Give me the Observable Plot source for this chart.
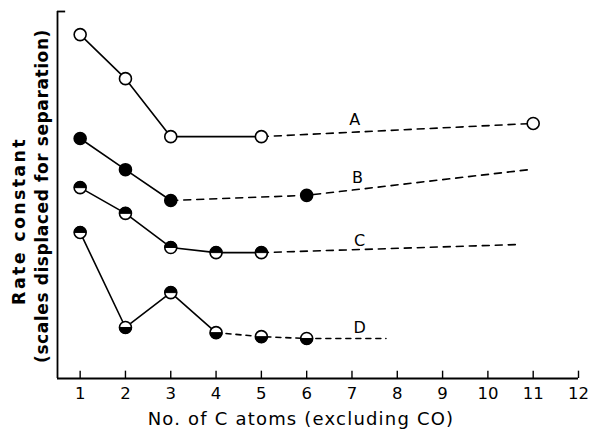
<!DOCTYPE html>
<html>
<head>
<meta charset="utf-8">
<script src="https://cdn.jsdelivr.net/npm/d3@7"></script>
<script src="https://cdn.jsdelivr.net/npm/@observablehq/plot@0.6"></script>
<style>
  html, body { margin: 0; padding: 0; background: #fff; }
</style>
</head>
<body>
<div id="chart"></div>
<script>
// ---- data (y is an arbitrary displaced scale) ----
const xTicks = [1, 2, 3, 4, 5, 6, 7, 8, 9, 10, 11, 12];

const aX = [1, 2, 3, 5, 11];
const aY = [93.7, 81.7, 65.9, 65.9, 69.5];

const bX = [1, 2, 3, 6];
const bY = [65.4, 56.9, 48.5, 49.9];
const bEndX = 10.9, bEndY = 56.9;

const cX = [1, 2, 3, 4, 5];
const cY = [52.0, 45.0, 35.7, 34.3, 34.3];
const cEndX = 10.65, cEndY = 36.5;

const dX = [1, 2, 3, 4, 5, 6];
const dY = [39.8, 13.9, 23.4, 12.5, 11.4, 10.9];
const dEndX = 7.75, dEndY = 10.9;

const curveLabels = ["A", "B", "C", "D"];
const labelX = [7.06, 7.12, 7.17, 7.17];
const labelY = [70.6, 54.6, 37.6, 13.9];

const xLabel = "No. of C atoms (excluding CO)";
const yLabel1 = "Rate constant";
const yLabel2 = "(scales displaced for separation)";

// ---- build tables ----
const pts = (xs, ys) => xs.map((x, i) => ({x, y: ys[i]}));
const A = pts(aX, aY), B = pts(bX, bY), C = pts(cX, cY), D = pts(dX, dY);
const aSolid = A.slice(0, 4), aDash = A.slice(3);
const bSolid = B.slice(0, 3), bDash = [...B.slice(2), {x: bEndX, y: bEndY}];
const cSolid = C, cDash = [C[C.length - 1], {x: cEndX, y: cEndY}];
const dSolid = D.slice(0, 4), dDash = [...D.slice(3), {x: dEndX, y: dEndY}];
const labels = curveLabels.map((t, i) => ({t, x: labelX[i], y: labelY[i]}));

// half-disc symbols
const halfTop = {draw(ctx, size) { const r = Math.sqrt(size / Math.PI); ctx.moveTo(-r, 0); ctx.arc(0, 0, r, Math.PI, 2 * Math.PI); ctx.closePath(); }};
const halfBottom = {draw(ctx, size) { const r = Math.sqrt(size / Math.PI); ctx.moveTo(r, 0); ctx.arc(0, 0, r, 0, Math.PI); ctx.closePath(); }};

const R = 6;
const lineW = 1.6;
const dash = "7,6";

const chart = Plot.plot({
  width: 591,
  height: 429,
  marginLeft: 57,
  marginRight: 13,
  marginTop: 11,
  marginBottom: 51,
  x: {domain: [0.5, 12], axis: null},
  y: {domain: [0, 100], axis: null},
  style: {fontFamily: "DejaVu Sans", color: "#000", background: "#fff"},
  marks: [
    // axes
    Plot.ruleY([0], {x1: 0.5, x2: 12, stroke: "#000", strokeWidth: 1.8}),
    Plot.ruleX([0.5], {y1: 0, y2: 100, stroke: "#000", strokeWidth: 1.8}),
    Plot.ruleY([100], {x1: 0.5, x2: 0.68, stroke: "#000", strokeWidth: 1.8}),
    Plot.ruleX(xTicks, {x: d => d, y1: 0, y2: 2, stroke: "#000", strokeWidth: 1.4}),
    Plot.text(xTicks, {x: d => d, y: 0, text: d => String(d), dy: 15, fontSize: 16.5, fill: "#000"}),
    Plot.text([xLabel], {frameAnchor: "bottom", textAnchor: "middle", text: d => d, dy: 46, dx: -17, fontSize: 18, fill: "#000"}),
    Plot.text([yLabel1], {frameAnchor: "left", textAnchor: "middle", text: d => d, dx: -38, dy: 26, rotate: -90, fontSize: 17.5, fontWeight: "bold", fill: "#000"}),
    Plot.text([yLabel2], {frameAnchor: "left", textAnchor: "middle", text: d => d, dx: -15, dy: 1, rotate: -90, fontSize: 17, fontWeight: "bold", fill: "#000"}),

    // solid segments
    Plot.line(aSolid, {x: "x", y: "y", stroke: "#000", strokeWidth: lineW}),
    Plot.line(bSolid, {x: "x", y: "y", stroke: "#000", strokeWidth: lineW}),
    Plot.line(cSolid, {x: "x", y: "y", stroke: "#000", strokeWidth: lineW}),
    Plot.line(dSolid, {x: "x", y: "y", stroke: "#000", strokeWidth: lineW}),
    // dashed extensions
    Plot.line(aDash, {x: "x", y: "y", stroke: "#000", strokeWidth: lineW, strokeDasharray: dash}),
    Plot.line(bDash, {x: "x", y: "y", stroke: "#000", strokeWidth: lineW, strokeDasharray: dash}),
    Plot.line(cDash, {x: "x", y: "y", stroke: "#000", strokeWidth: lineW, strokeDasharray: dash}),
    Plot.line(dDash, {x: "x", y: "y", stroke: "#000", strokeWidth: lineW, strokeDasharray: "5,5"}),

    // markers
    Plot.dot(A, {x: "x", y: "y", r: R, fill: "#fff", stroke: "#000", strokeWidth: 1.6}),
    Plot.dot(B, {x: "x", y: "y", r: R, fill: "#000", stroke: "#000", strokeWidth: 1.6}),
    Plot.dot(C, {x: "x", y: "y", r: R, fill: "#fff", stroke: "#000", strokeWidth: 1.6}),
    Plot.dot(C, {x: "x", y: "y", r: R, symbol: halfTop, fill: "#000", stroke: "#000", strokeWidth: 1.0}),
    Plot.dot(D, {x: "x", y: "y", r: R, fill: "#fff", stroke: "#000", strokeWidth: 1.6}),
    Plot.dot(D, {x: "x", y: "y", r: R, symbol: halfTop, fill: "#000", stroke: "#000", strokeWidth: 1.0, filter: (d, i) => i === 0 || i === 2}),
    Plot.dot(D, {x: "x", y: "y", r: R, symbol: halfBottom, fill: "#000", stroke: "#000", strokeWidth: 1.0, filter: (d, i) => i !== 0 && i !== 2}),

    // curve labels
    Plot.text(labels, {x: "x", y: "y", text: "t", fontSize: 16, fill: "#000"})
  ]
});

// letter spacing for the axis titles
const spacing = new Map([[xLabel, 1.2], [yLabel1, 2.3], [yLabel2, 0.6]]);
d3.select(chart).selectAll("text").each(function () {
  const ls = spacing.get(this.textContent);
  if (ls !== undefined) this.setAttribute("letter-spacing", ls);
});
document.getElementById("chart").appendChild(chart);
</script>
</body>
</html>
